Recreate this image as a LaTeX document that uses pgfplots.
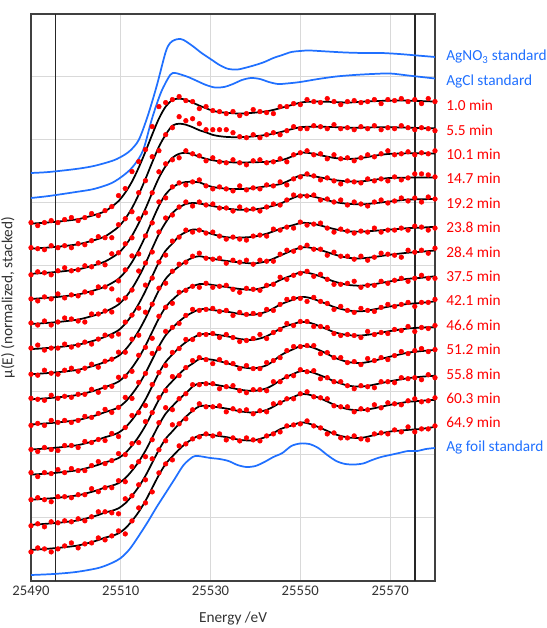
\documentclass[border=0pt]{standalone}
\usepackage{fontspec}
\setmainfont{Carlito}
\usepackage{pgfplots}
\usepackage{pgfplotstable}
\pgfplotsset{compat=1.18}
\usetikzlibrary{calc}
\definecolor{stdblue}{RGB}{32,112,255}
\definecolor{ptred}{RGB}{255,0,0}
\definecolor{gridgray}{RGB}{217,217,217}
\definecolor{framegray}{RGB}{64,64,64}

% fitted curves (rise above own baseline), one row per spectrum
\pgfplotstableread{
name 25490 25491.5 25493 25494.5 25496 25497.5 25499 25500.5 25502 25503.5 25505 25506.5 25508 25509.5 25511 25512.5 25514 25515.5 25517 25518.5 25520 25521.5 25523 25524.5 25526 25527.5 25529 25530.5 25532 25533.5 25535 25536.5 25538 25539.5 25541 25542.5 25544 25545.5 25547 25548.5 25550 25551.5 25553 25554.5 25556 25557.5 25559 25560.5 25562 25563.5 25565 25566.5 25568 25569.5 25571 25572.5 25574 25575.5 25577 25578.5 25580
t1 0 0.4 0.9 1.4 2 2.7 3.5 4.4 6 7.8 9.8 12.3 17 22.5 31 42 56 72 89 105 117 123.5 125 123.8 121 118 115.3 112.8 111.5 110.8 110.3 110.1 110.3 110.8 111.5 112.3 113.7 115.4 117.3 119.1 121 121.8 122 122 121.8 121.6 121.3 121.1 121.3 121.8 122.2 122.4 122.7 122.9 123 123 123 122.8 122.5 122.3 122
t2 0 0.4 0.9 1.4 2 2.7 3.5 4.4 6 7.8 9.8 12.3 16.7 21.9 30 40.7 54.2 69.7 86.3 102 114 123 125 124 121.5 118.5 116.3 113.8 112.5 111.8 111.5 111.5 111.8 112.3 113 113.8 115 116.5 118.3 120 121.5 121.9 122 122 121.8 121.6 121.3 121.1 121 121 121.2 121.4 121.5 121.5 121.4 121.2 121 120.8 120.5 120.5 120.5
t3 0 0.4 0.9 1.4 2 2.7 3.5 4.4 6 7.8 9.8 12.3 16.1 20.7 28.2 38.1 50.6 65.1 80.9 96 107.7 116 120 121 119.5 117 115 113.5 112.5 111.8 111.4 111.3 111.4 111.5 111.7 111.9 112.5 113.3 115.3 118 121 121 120 118.5 117.2 115.9 115.2 114.8 115.1 115.8 116.8 118.1 119 119.8 120.1 120.3 120.5 120.5 120.5 120.4 120.3
t4 0 0.4 0.9 1.4 2 2.7 3.5 4.4 6 7.8 9.8 12.3 15.8 20.1 27.2 36.8 48.8 62.8 78.2 93 104.6 111.5 115.2 116.9 117 116.6 113.8 111.9 110.9 110.2 109.9 109.8 110.2 110.8 111.7 112.7 113.7 114.7 117.3 120.5 123.5 123.5 122.7 121.4 120.2 118.9 118.1 117.5 117.4 117.5 118.2 119.2 120 120.8 121.1 121.2 121.3 121.3 121.3 121.3 121.3
t5 0 0.4 0.9 1.4 2 2.7 3.5 4.4 6 7.8 9.8 12.3 15.5 19.5 26.3 35.5 47 60.5 75.5 90 101.5 111 116.5 120 121 120.5 119.2 117.9 116.7 115.4 114.7 114.2 114.2 114.4 115.3 116.6 118.3 120.3 123.3 126.3 128.5 128.5 127.3 125.6 123.8 122.1 121 120.3 119.8 119.6 120 120.8 121.5 122.3 123 123.8 124.5 124.6 124.7 124.9 125
t6 0 0.4 0.9 1.4 2 2.7 3.5 4.4 6 7.8 9.8 12.3 15.2 18.9 25.3 34.2 45.2 58.2 72.8 87 98.4 105.5 113 117 119.5 119 117 114.8 113.2 111.9 111.5 111.5 111.8 112.3 113.7 115.4 117.7 120.2 122.3 124.1 126 126.2 125.2 123.6 121.8 120.1 118.8 117.8 117.5 117.5 117.8 118.3 118.8 119.3 119.9 120.4 121 121.3 121.5 121.9 122.3
t7 0 0.4 0.9 1.4 2 2.7 3.5 4.4 6 7.8 9.8 12.3 14.9 18.3 24.4 32.9 43.4 55.9 70.1 84 95.3 102.5 107.9 113 116.5 118 116.7 115.4 114.3 113.3 112.5 111.8 111.2 110.7 111.5 113 115.5 118.5 121.5 124.3 126.5 126.9 125.8 124.1 122 119.8 118 116.5 115.9 115.8 116.4 117.2 118.2 119.2 120 120.8 121.5 122 122.5 123.1 123.7
t8 0 0.4 0.9 1.4 2 2.7 3.5 4.4 6 7.8 9.8 12.3 14.6 17.7 23.4 31.6 41.6 53.6 67.4 81 92.2 99.5 105.4 110 113 115.2 115.3 114.3 113.3 112.3 111.3 110.3 109.8 109.6 110.8 112.8 115.8 119.3 122 124.4 127 126.6 125 122.8 120.3 117.8 116 114.5 113.8 113.6 114.2 115.2 116.3 117.6 118.6 119.6 120.5 121 121.5 122.3 123
t9 0 0.4 0.9 1.4 2 2.7 3.5 4.4 6 7.8 9.8 12.3 14.3 17.1 22.5 30.3 39.8 51.3 64.7 78 89.1 96.5 103 108.2 112 114.9 115.3 114.3 113.5 112.8 111.7 110.4 109.8 109.6 110.8 112.8 116 119.8 122.5 124.9 127.5 127.1 125.3 122.8 120.2 117.4 115.5 114 113.3 113.1 113.8 115.1 116.3 117.6 118.6 119.6 120.5 121 121.5 122.3 123
t10 0 0.4 0.9 1.4 2 2.7 3.5 4.4 6 7.8 9.8 12.3 14.2 16.8 22 29.6 38.9 50 63.3 76.5 87.5 95 101.8 107.3 111.5 114.7 115.7 115.2 114.3 113.3 112 110.5 109.8 109.6 111 113.3 116.8 120.9 123.7 125.6 127.5 127.3 125.5 122.9 120.2 117.4 115.7 114.4 114 114 114.7 115.7 116.8 118.1 119.1 120.1 121 121.5 122 122.2 122.3
t11 0 0.4 0.9 1.4 2 2.7 3.5 4.4 6 7.8 9.8 12.3 14 16.5 21.5 29 38 49 62 75 86 93.5 100.5 106.5 111 115.5 115.5 114.8 113.3 111.6 109.7 107.7 106.7 106.2 107.3 109.3 113.6 118.9 122.6 125.5 128.5 128.5 126.7 123.9 120.7 117.2 114.7 112.7 111.8 111.6 112.5 114 115.7 117.4 119 120.5 122 122.8 123.5 124.1 124.7
t12 0 0.4 0.9 1.4 2 2.7 3.5 4.4 6 7.8 9.8 12.3 14 16.5 21.5 29 38 49 62 75 86 93.5 100.5 106.5 113 116.5 116.3 115.3 114.2 112.9 111.5 110 109.2 108.7 109.7 111.4 114.9 119.3 122.9 125.9 128.5 128.5 126.8 124.3 121.5 118.5 116.2 114.2 113.3 113.1 113.8 115.1 116.5 118 119.3 120.4 121.5 122.3 123 123.5 124
t13 0 0.4 0.9 1.4 2 2.7 3.5 4.4 6 7.8 9.8 12.3 14 16.5 21.5 29 38 49 62 75 86 93.5 101 108 114 118.5 119 118.3 117.3 116.3 115 113.5 112.7 112.2 113.2 114.9 118.1 122 125.2 127.9 130.5 130.5 128.8 126.3 123.3 120.1 117.7 115.7 114.8 114.6 115.3 116.6 118 119.5 120.8 121.9 123 123.5 124 124.5 125
t14 0 0.4 0.9 1.4 2 2.7 3.5 4.4 6 7.8 9.8 12.3 14 16.5 21.5 29 38 49 62 75 86 93.5 100.5 106.5 111 114.5 115.2 114.7 113.8 112.8 111.5 110 109.5 109.5 111 113.3 116.7 120.7 123 124.9 127.5 126.8 124.7 121.9 119 116 114 112.5 112 112 113.2 114.9 116.5 118 118.9 119.4 120 120.5 121 122 123
}\fitraw
\pgfplotstabletranspose[colnames from=name,input colnames to=E]\fitT\fitraw

% measured points, one row per spectrum
\pgfplotstableread{
name 25490 25491.5 25493 25494.5 25496 25497.5 25499 25500.5 25502 25503.5 25505 25506.5 25508 25509.5 25511 25512.5 25514 25515.5 25517 25518.5 25520 25521.5 25523 25524.5 25526 25527.5 25529 25530.5 25532 25533.5 25535 25536.5 25538 25539.5 25541 25542.5 25544 25545.5 25547 25548.5 25550 25551.5 25553 25554.5 25556 25557.5 25559 25560.5 25562 25563.5 25565 25566.5 25568 25569.5 25571 25572.5 25574 25575.5 25577 25578.5 25580
t1 1 -2 1 3 1 4 6 3 6 10 8 13 17 28 35 52 62 74 97 117 121 124 127 123 122 115 117 113 112 110 112 108 110 114 112 111 110 117 117 120 119 124 122 121 125 122 119 122 123 121 122 124 120 124 123 125 122 124 120 125 122
t2 1 0 -1 3 1 3 1 5 4 8 12 11 11 24 30 37 56 68 92 98 114 121 132 128 130 125 119 119 119 119 116 112 111 114 111 114 116 114 118 122 120 120 123 122 120 124 120 121 119 122 120 123 119 121 120 123 121 119 121 120 118
t3 -1 2 1 -1 3 6 3 4 8 7 11 9 20 21 30 36 55 61 81 102 110 114 116 123 120 118 113 116 112 111 114 111 109 113 114 111 112 115 112 119 121 123 119 120 115 119 115 116 113 116 119 117 120 123 119 120 122 119 121 120 123
t4 0 -2 2 0 5 1 4 3 7 6 12 12 10 18 29 43 45 63 76 97 101 112 116 114 117 119 113 110 112 110 108 113 109 111 110 114 113 117 114 120 122 125 123 119 121 118 115 118 117 116 120 118 120 118 122 119 121 125 125 124 122
t5 1 -1 3 -1 2 6 5 3 2 10 10 13 12 24 26 34 53 61 72 92 106 109 117 122 118 122 119 120 116 116 113 117 114 115 113 117 120 119 124 129 128 128 129 124 125 122 124 119 122 120 118 122 124 121 123 126 123 126 122 127 125
t6 1 4 -1 1 1 5 2 4 7 5 10 14 13 15 27 34 41 64 71 87 94 108 112 119 117 119 116 117 113 110 112 110 109 113 114 113 120 119 122 121 127 124 125 126 121 117 120 118 116 118 117 121 117 119 119 121 119 123 122 119 121
t7 0 -1 4 1 0 4 6 3 6 10 7 13 15 22 22 35 39 62 70 86 91 103 110 112 118 121 116 115 116 111 114 112 114 110 114 113 113 120 124 123 126.5 129 125 125 119 122 118 118 115 118 114 117 121 120 119 117 124 122 124 121 126
t8 1 0 -1 4 1 3 2 5 5 10 7 12 13 22 23 28 44 52 61 83 92 96 107 109 113 112 116 112 113 114 110 107 111 110 109 114 115 122 120 124 126 128 123 125 120 115 115 116 118 112 114 114 118 116 119 121 118 121 124 121 121
t9 -1 1 -1 4 2 4 2 4 8 7 11 15 12 17 27 26 42 51 71 76 93 97 101 109 115 114 115 116 113 114 109 112 110 111 110 115 114 120 125 126 126 123 127 123 121 115 118 114 112 116 114 113 117 120 118 120 122 118 122 122 125
t10 0 -2 2 0 -1 4 4 2 8 7 10 9 16 13 22 34 37 44 65 77 84 97 101 110 110 115 115 116 112 115 112 108 109 111 115 111 117 120 126 124 128 128 123 123 122 116 114 115 114 112 118 115 117 116 120 119 123 118 122 121 124
t11 2 -2 2 1 5 2 6 4 4 9 13 11 14 21 20 31 32 53 62 77 84 98 99 107 114 117 115 111 115 112 111 106 109 106 106 112 114 117 124 128 128 129 129 121 122 117 117 112 113 110 116 114 117 115 119 123 121 124 126 123 125
t12 0 2 0 -2 3 3 2 5 5 11 8 12 12 19 18 33 38 43 60 77 92 90 101 106 115 115 116 116 111 113 114 109 107 110 110 109 118 118 123 124 130 128 129 121 122 118 118 114 111 114 113 112 118 118 117 122 121 122 120 125 122
t13 -1 1 -2 3 2 4 3 6 4 8 13 13 12 11 26 29 40 45 66 75 84 100 101 106 115 121 118 118 119 113 116 114 115 111 114 113 121 122 126 126 131 133 128 127 126 119 118 118 113 116 115 120 117 122 121 120 124 126 123 124 127
t14 -2 2 1 -2 1 4 7 2 6 7 12 10 14 19 16 29 42 47 58 77 86 90 104 106 111 113 116 114 116 110 112 109 112 110 109 114 116 118 124 125 126 129 124 122 116 117 112 112 114 111 110 116 117 116 120 118 123 118 121 121 124
}\dotraw
\pgfplotstabletranspose[colnames from=name,input colnames to=E]\dotT\dotraw

\newcommand{\fitplot}[2]{%
  \addplot[black, line width=1.3pt, smooth] table[x=E, y expr=\thisrow{#1}+#2]{\fitT};
  \addplot[only marks, mark=*, mark size=1.75pt, color=ptred] table[x=E, y expr=\thisrow{#1}+#2]{\dotT};
}

\begin{document}
\begin{tikzpicture}
\begin{axis}[name=ax,
  scale only axis, width=303pt, height=425.25pt,
  xmin=25490, xmax=25580, ymin=0, ymax=567,
  xtick={25490,25510,25530,25550,25570},
  scaled x ticks=false,
  xticklabel={\pgfmathprintnumber[fixed,precision=0,1000 sep={}]{\tick}},
  ytick={0,63,126,189,252,315,378,441,504,567},
  yticklabels={},
  major tick length=0pt,
  grid=major, major grid style={gridgray, line width=0.75pt},
  axis line style={framegray, line width=1pt},
  /pgf/number format/1000 sep={},
  /pgf/number format/assume math mode=true,
  tick label style={font=\fontsize{11}{13}\selectfont, text=black!80},
  xlabel={Energy /eV}, ylabel={μ(E) (normalized, stacked)},
  label style={font=\fontsize{11.5}{14}\selectfont, text=black!80},
  xlabel style={at={(axis description cs:0.5,0)}, anchor=center, yshift=-27.75pt},
  ylabel style={at={(axis description cs:-0.057,0.5)}, anchor=center},
  clip mode=individual,
]
\addplot[black!85, line width=1.1pt] coordinates {(25495.5,0) (25495.5,567)};
\addplot[black!85, line width=1.1pt] coordinates {(25575.5,0) (25575.5,567)};

% AgNO3 standard
\addplot[stdblue, line width=1.3pt, smooth] coordinates {
(25490,408) (25494,409) (25500,412) (25504,415) (25508,420) (25510,424) (25512,430) (25514,441) (25516,465) (25518,495) (25520,529) (25521,538) (25522,541) (25523,542) (25524,541) (25526,535) (25528,528) (25530,522) (25532,516) (25534,512) (25536,511.5) (25538,513.5) (25540,516) (25542,519) (25544,523) (25546,526) (25548,529) (25550,530) (25552,530.5) (25556,529.5) (25560,528.5) (25564,528) (25568,528) (25572,527) (25576,525.5) (25580,524)};
% AgCl standard
\addplot[stdblue, line width=1.3pt, smooth] coordinates {
(25490,383) (25494,385) (25500,389) (25504,392) (25508,398) (25511,407) (25513,416) (25515,431) (25517,463) (25519,489) (25521,506) (25522,508) (25523,507) (25525,504) (25527,500) (25529,496) (25531,493.5) (25533,494) (25535,497) (25537,501) (25539,503) (25541,502) (25543,499) (25545,497) (25547,497.5) (25550,499) (25554,502) (25558,504.5) (25562,506) (25566,507) (25570,507.5) (25574,505.5) (25577,504) (25580,502.5)};
% Ag foil standard
\addplot[stdblue, line width=1.3pt, smooth] coordinates {
(25490,6) (25495,7) (25500,9) (25505,13) (25508,18) (25510,23) (25512,32) (25514,45) (25516,59) (25518,74) (25520,88) (25522,102) (25524,116) (25526,124) (25527,125) (25528,124.5) (25530,123) (25532,122) (25534,120) (25536,116) (25538,114) (25540,115) (25542,119) (25544,124) (25546,128) (25548,135) (25550,137.5) (25552,137) (25554,133) (25556,126) (25558,120) (25560,117) (25562,116.5) (25564,117.5) (25566,121) (25568,124) (25570,126) (25572,128) (25574,130) (25576,130) (25578,132) (25580,133)};

\fitplot{t1}{357.4}
\fitplot{t2}{332.3}
\fitplot{t3}{307.2}
\fitplot{t4}{282.1}
\fitplot{t5}{257}
\fitplot{t6}{231.9}
\fitplot{t7}{206.8}
\fitplot{t8}{181.7}
\fitplot{t9}{156.6}
\fitplot{t10}{131.5}
\fitplot{t11}{106.4}
\fitplot{t12}{81.3}
\fitplot{t13}{56.2}
\fitplot{t14}{31.1}

\begin{scope}[every node/.style={anchor=west, inner sep=0pt, xshift=8.25pt, font=\fontsize{11.5}{14}\selectfont}]
\node[text=stdblue] at (axis cs:25580,524.3) {AgNO\textsubscript{3} standard};
\node[text=stdblue] at (axis cs:25580,499.9) {AgCl standard};
\node[text=ptred] at (axis cs:25580,475.5) {1.0 min};
\node[text=ptred] at (axis cs:25580,451.1) {5.5 min};
\node[text=ptred] at (axis cs:25580,426.7) {10.1 min};
\node[text=ptred] at (axis cs:25580,402.3) {14.7 min};
\node[text=ptred] at (axis cs:25580,377.9) {19.2 min};
\node[text=ptred] at (axis cs:25580,353.5) {23.8 min};
\node[text=ptred] at (axis cs:25580,329.1) {28.4 min};
\node[text=ptred] at (axis cs:25580,304.7) {37.5 min};
\node[text=ptred] at (axis cs:25580,280.3) {42.1 min};
\node[text=ptred] at (axis cs:25580,255.9) {46.6 min};
\node[text=ptred] at (axis cs:25580,231.5) {51.2 min};
\node[text=ptred] at (axis cs:25580,207.1) {55.8 min};
\node[text=ptred] at (axis cs:25580,182.7) {60.3 min};
\node[text=ptred] at (axis cs:25580,158.3) {64.9 min};
\node[text=stdblue] at (axis cs:25580,133.9) {Ag foil standard};
\end{scope}
\end{axis}
\pgfresetboundingbox
\path ($(ax.south west)+(-23.25pt,-35.25pt)$) rectangle ($(ax.north east)+(84pt,10.5pt)$);
\end{tikzpicture}
\end{document}
